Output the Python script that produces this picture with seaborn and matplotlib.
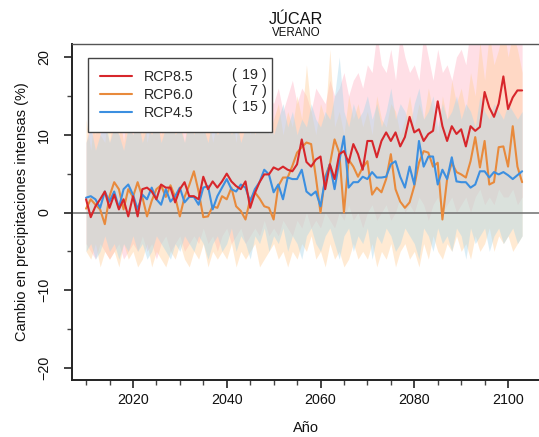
import numpy as np
import pandas as pd
import matplotlib
matplotlib.use("Agg")
import matplotlib.pyplot as plt
from matplotlib.ticker import MultipleLocator, FixedLocator
from matplotlib.lines import Line2D
import seaborn as sns

# ---------------- data ----------------
years = list(range(2010, 2104))
scenarios = ["RCP8.5", "RCP6.0", "RCP4.5"]
n_models = [19, 7, 15]

rcp85 = [1.7, -0.6, 0.8, 1.7, 2.7, 0.6, 2.3, 0.4, 1.7, -0.5,
         2.1, -0.5, 3.0, 3.2, 2.7, 1.7, 3.6, 3.2, 3.2, 1.3,
         3.0, 3.9, 2.1, 2.1, 1.7, 4.6, 3.0, 4.0, 3.2, 4.0,
         5.0, 4.0, 3.4, 3.0, 4.0, 0.6, 2.5, 3.9, 4.9, 4.9,
         5.8, 5.5, 5.9, 5.5, 5.3, 6.2, 9.4, 6.5, 5.9, 6.8,
         7.2, 3.0, 6.2, 4.3, 7.5, 7.9, 6.4, 8.8, 7.5, 5.5,
         9.2, 9.2, 7.1, 9.2, 10.3, 9.2, 10.3, 8.5, 9.7, 12.3,
         10.3, 10.7, 9.2, 10.1, 10.5, 14.3, 11.1, 9.2, 11.1, 10.1,
         10.7, 8.5, 11.1, 10.5, 11.0, 15.5, 13.5, 12.3, 14.0, 17.5,
         13.3, 14.8, 15.7, 15.7]
rcp60 = [0.5, 1.7, 1.0, 0.4, -1.5, 2.1, 3.9, 3.0, 0.4, 3.0,
         2.0, 3.9, 2.0, -0.5, 1.5, 3.0, 3.5, 2.0, 3.5, 2.0,
         -0.5, 2.0, 3.5, 5.3, 2.7, -0.6, -0.5, 0.8, 0.6, 2.1,
         1.7, 3.2, 0.8, 0.2, -0.9, 1.7, 2.6, 1.8, 0.8, 0.6,
         -0.9, 3.4, 4.5, 4.5, 6.0, 7.7, 8.4, 9.0, 8.8, 4.6,
         0.0, 4.6, 6.2, 9.4, 7.7, 0.0, 6.8, 5.9, 4.6, 5.8,
         6.6, 2.3, 3.2, 2.6, 4.3, 7.5, 3.0, 1.4, 0.6, 1.3,
         3.4, 6.4, 7.9, 7.7, 5.9, 6.4, -0.9, 4.3, 6.4, 5.2,
         4.9, 4.5, 6.6, 9.7, 5.8, 9.2, 3.6, 3.9, 8.4, 8.5,
         5.9, 11.1, 5.9, 3.9]
rcp45 = [1.9, 2.1, 1.7, 0.6, 2.7, 1.4, 2.7, 0.6, 3.0, 3.6,
         2.3, 0.4, 2.3, 1.7, 3.2, 1.7, 1.0, 3.0, 1.4, 2.1,
         3.2, 1.3, 2.0, 2.0, 1.0, 3.2, 3.4, 0.4, 2.1, 3.2,
         4.3, 3.0, 2.7, 3.6, 3.2, 1.4, 3.0, 3.9, 5.5, 4.9,
         2.6, 3.6, 1.7, 4.5, 4.3, 4.3, 5.5, 2.7, 2.2, 2.7,
         0.8, 4.3, 6.2, 3.0, 6.6, 9.8, 3.2, 3.9, 3.9, 4.6,
         4.3, 5.2, 4.5, 4.5, 4.6, 6.2, 6.6, 4.6, 3.2, 5.9,
         3.6, 9.2, 5.9, 7.2, 7.2, 3.6, 5.5, 4.3, 7.1, 4.0,
         3.9, 3.9, 3.2, 3.6, 5.3, 5.3, 4.5, 5.2, 4.9, 5.2,
         4.8, 4.3, 4.8, 5.3]

up85 = [9, 12, 10, 14, 11, 9, 13, 10, 12, 15,
        11, 13, 10, 14, 12, 15, 11, 13, 12, 16,
        12, 14, 11, 15, 13, 12, 16, 13, 14, 12,
        15, 13, 17, 14, 12, 16, 14, 13, 17, 15,
        14, 16, 13, 15, 17, 14, 16, 15, 13, 16,
        15, 14, 17, 15, 16, 18, 15, 17, 18, 16,
        19, 18, 23, 19, 18, 21, 17, 23, 20, 18,
        19, 17, 23, 20, 17, 21, 18, 19, 17, 20,
        21, 19, 24, 22, 23, 22, 25, 23, 24, 26,
        25, 24, 26, 25]
lo85 = [-4, -5, -6, -4, -5, -6, -5, -4, -6, -5,
        -4, -5, -3, -5, -4, -6, -4, -3, -5, -4,
        -3, -5, -4, -3, -4, -2, -4, -3, -5, -3,
        -2, -4, -3, -2, -4, -3, -2, -3, -1, -3,
        -2, -3, -1, -2, -3, -1, -2, 0, -2, -1,
        -2, 0, -1, -2, 0, -1, 1, -1, 0, -2,
        0, 1, -1, 0, 1, -1, 0, 2, 0, 1,
        0, 2, 1, -1, 1, 2, 0, 1, 2, 0,
        1, 2, 0, 2, 3, 1, 2, 1, 3, 2,
        2, 3, 1, 2]
up60 = [12, 8, 14, 10, 9, 15, 11, 13, 9, 14,
        10, 13, 15, 9, 12, 14, 10, 13, 11, 15,
        12, 9, 14, 11, 16, 10, 13, 9, 12, 14,
        11, 13, 9, 15, 12, 10, 14, 11, 13, 10,
        12, 14, 10, 13, 11, 15, 12, 19, 13, 10,
        14, 12, 21, 11, 13, 10, 15, 12, 14, 11,
        13, 10, 15, 12, 11, 14, 13, 10, 12, 15,
        11, 14, 12, 16, 13, 10, 15, 12, 17, 14,
        16, 13, 18, 15, 22, 17, 23, 19, 21, 24,
        20, 23, 21, 18]
lo60 = [-5, -6, -4, -7, -5, -6, -5, -7, -4, -6,
        -5, -7, -6, -4, -7, -5, -6, -7, -5, -6,
        -4, -6, -7, -5, -6, -4, -7, -5, -6, -5,
        -6, -4, -7, -5, -6, -5, -4, -7, -6, -5,
        -4, -6, -5, -7, -5, -6, -4, -5, -3, -6,
        -5, -7, -4, -6, -5, -7, -6, -4, -6, -5,
        -6, -4, -7, -5, -6, -4, -7, -5, -4, -6,
        -5, -7, -4, -6, -3, -5, -6, -4, -5, -3,
        -5, -4, -6, -3, -5, -4, -2, -5, -3, -4,
        -3, -5, -4, -3]
up45 = [9, 11, 8, 10, 12, 9, 11, 10, 8, 11,
        10, 12, 9, 11, 10, 12, 9, 11, 13, 10,
        11, 9, 12, 10, 13, 11, 9, 12, 10, 11,
        13, 10, 12, 9, 11, 14, 10, 12, 11, 13,
        10, 12, 14, 11, 13, 10, 12, 11, 14, 12,
        11, 13, 12, 15, 20, 13, 11, 14, 12, 13,
        15, 12, 14, 11, 13, 16, 12, 14, 13, 11,
        14, 16, 12, 13, 15, 11, 14, 12, 13, 15,
        12, 14, 13, 11, 15, 13, 12, 14, 13, 12,
        14, 13, 12, 13]
lo45 = [-5, -4, -6, -5, -3, -5, -4, -6, -4, -5,
        -3, -5, -4, -6, -5, -3, -4, -5, -6, -4,
        -5, -3, -4, -5, -3, -4, -6, -4, -3, -5,
        -4, -2, -5, -3, -4, -6, -3, -4, -2, -5,
        -3, -4, -2, -5, -3, -4, -6, -3, -2, -4,
        -5, -3, -2, -4, -6, -3, -2, -5, -3, -4,
        -2, -6, -3, -4, -2, -3, -5, -4, -2, -3,
        -4, -6, -2, -3, -5, -2, -4, -3, -5, -2,
        -3, -6, -2, -4, -3, -2, -5, -3, -2, -4,
        -3, -2, -4, -3]

line_colors = {"RCP8.5": "#d7262b", "RCP6.0": "#e88a3c", "RCP4.5": "#3c8fe0"}
band_colors = {"RCP8.5": "#ffb3c4", "RCP6.0": "#ffcf98", "RCP4.5": "#a9d6ea"}

# ---------------- figure ----------------
sns.set_style("ticks")
plt.rcParams["font.family"] = ["Liberation Sans", "DejaVu Sans"]

W, H = 539, 437
fig = plt.figure(figsize=(W / 100, H / 100), dpi=100)
ax = fig.add_axes([72 / W, 1 - 380 / H, 1 - 72 / W, (380 - 44) / H])

bands = {"RCP8.5": (lo85, up85), "RCP6.0": (lo60, up60), "RCP4.5": (lo45, up45)}
for s in ["RCP8.5", "RCP6.0", "RCP4.5"]:
    lo, up = bands[s]
    ax.fill_between(years, lo, up, color=band_colors[s], alpha=0.42, lw=0, zorder=1)

ax.axhline(0, color="#6e6e6e", lw=1.1, zorder=2)

df = pd.DataFrame({
    "Año": years * 3,
    "valor": rcp85 + rcp60 + rcp45,
    "Escenario": ["RCP8.5"] * len(years) + ["RCP6.0"] * len(years) + ["RCP4.5"] * len(years),
})
sns.lineplot(data=df, x="Año", y="valor", hue="Escenario",
             hue_order=["RCP6.0", "RCP4.5", "RCP8.5"], palette=line_colors,
             lw=1.5, ax=ax, legend=False, zorder=3)

ax.set_xlim(2007.0, 2106.6)
ax.set_ylim(-21.54, 21.67)

ax.xaxis.set_major_locator(FixedLocator([2020, 2040, 2060, 2080, 2100]))
ax.xaxis.set_minor_locator(FixedLocator([y for y in range(2010, 2101, 5) if y % 20 != 0]))
ax.yaxis.set_major_locator(MultipleLocator(10))
ax.yaxis.set_minor_locator(FixedLocator([-15, -5, 5, 15]))
ax.tick_params(axis="both", which="major", length=6, width=1.2, color="#222222",
               labelsize=10.3, labelcolor="#111111")
ax.tick_params(axis="both", which="minor", length=3.5, width=1.0, color="#444444")
ax.tick_params(axis="x", which="major", pad=3.5)
ax.tick_params(axis="y", which="major", pad=9)
for lab in ax.get_yticklabels():
    lab.set_rotation(90)
    lab.set_va("center")

for sp in ["left", "bottom"]:
    ax.spines[sp].set_color("#222222")
    ax.spines[sp].set_linewidth(1.4)
ax.spines["top"].set_visible(True)
ax.spines["top"].set_color("#555555")
ax.spines["top"].set_linewidth(1.0)
ax.spines["right"].set_visible(False)

ax.set_xlabel("Año", fontsize=10.5, labelpad=10, color="#111111")
ax.set_ylabel("Cambio en precipitaciones intensas (%)", fontsize=10.5, labelpad=6, color="#111111")

# legend
handles = [Line2D([], [], color=line_colors[s], lw=1.5) for s in scenarios]
leg = ax.legend(handles, scenarios, loc="upper left",
                bbox_to_anchor=(16 / 467, (380 - 126) / 336, 184 / 467, 68 / 336),
                mode="expand", borderaxespad=0, frameon=True, fancybox=False,
                framealpha=1, edgecolor="#444444", fontsize=10.3,
                handlelength=2.2, handletextpad=0.85, labelspacing=0.28,
                borderpad=0.85)
leg.get_frame().set_linewidth(1.0)
leg.set_zorder(5)

row_y = [75, 91, 107]
for n, py in zip(n_models, row_y):
    yy = (380 - py) / 336
    ax.text((231 - 72) / 467, yy, "(", transform=ax.transAxes, ha="left", va="center",
            fontsize=10.3, zorder=6)
    ax.text((267 - 72) / 467, yy, f"{n} )", transform=ax.transAxes, ha="right", va="center",
            fontsize=10.3, zorder=6)

fig.text(296 / W, 1 - 20 / H, "JÚCAR", ha="center", va="center", fontsize=11.7, color="#111111")
fig.text(296 / W, 1 - 33 / H, "VERANO", ha="center", va="center", fontsize=8.3, color="#111111")

fig.savefig("out.png", dpi=100)
